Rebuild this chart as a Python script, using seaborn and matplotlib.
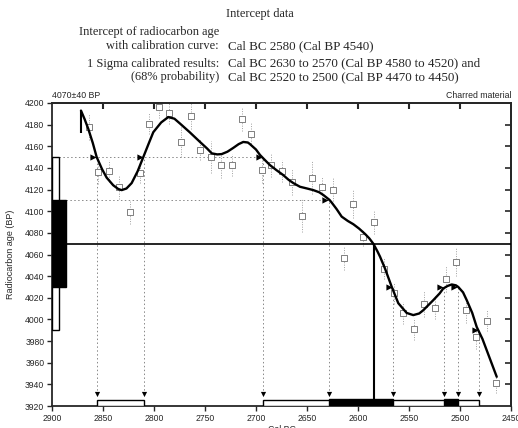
import matplotlib
matplotlib.use("Agg")
import matplotlib.pyplot as plt
import seaborn as sns
import numpy as np
import pandas as pd

# ---------------- data ----------------
curve_year = [2871.6, 2868, 2864.4, 2860, 2856.2, 2851, 2846.4, 2840, 2835, 2831.7, 2827, 2821.9,
              2816, 2810.5, 2805, 2800.7, 2793, 2786, 2780, 2774.5, 2765, 2754.9, 2748, 2743.4,
              2738, 2733.6, 2728, 2722.3, 2717, 2712.5, 2708, 2705.9, 2700, 2696.1, 2692, 2686.3,
              2680, 2673.3, 2668, 2663.4, 2656.9, 2650, 2643.8, 2638, 2634, 2628, 2625.8, 2621,
              2616, 2610, 2604.6, 2599, 2593.1, 2589, 2585, 2581, 2578.4, 2573.5, 2566.9, 2560.5,
              2552.3, 2545.8, 2540, 2536, 2526.2, 2520, 2516.4, 2512, 2508.1, 2504, 2501.7, 2497,
              2493.4, 2488, 2483.6, 2478, 2473.8, 2468, 2464]
curve_bp = [4193, 4185, 4176, 4163, 4150, 4139, 4131, 4124, 4120.5, 4119.5, 4121, 4126,
            4137, 4150, 4163, 4173, 4182, 4187, 4185.5, 4181, 4173, 4164, 4158, 4153.5,
            4152.5, 4152.8, 4155, 4158.5, 4162, 4164, 4163.5, 4162, 4157, 4152, 4148, 4142.6,
            4138, 4133.4, 4129, 4126, 4122.6, 4121, 4119.5, 4117.5, 4115, 4110.5, 4108, 4102,
            4095, 4091, 4088, 4084, 4079, 4075, 4070, 4063, 4058, 4047, 4030, 4015,
            4006, 4004, 4005.5, 4008.5, 4017.8, 4024, 4028.6, 4031, 4032.3, 4031.5, 4030, 4025,
            4017.8, 4006, 3993, 3982, 3971.5, 3957, 3947]

pt_year = [2864, 2855, 2844, 2834, 2824, 2814, 2805, 2795, 2785, 2774, 2764, 2755, 2744, 2734,
           2724, 2714, 2705, 2694, 2685, 2675, 2665, 2655, 2645, 2635, 2625, 2614, 2605, 2595,
           2584, 2575, 2565, 2556, 2545, 2535, 2525, 2514, 2504, 2494, 2484, 2474, 2465]
pt_bp = [4178, 4136, 4137, 4122, 4099, 4135, 4181, 4196, 4191, 4164, 4188, 4157, 4150, 4143,
         4143, 4185, 4171, 4138, 4143, 4137, 4127, 4096, 4131, 4122, 4120, 4057, 4107, 4076,
         4090, 4047, 4024, 4006, 3991, 4014, 4011, 4037, 4053, 4009, 3984, 3999, 3941]
pt_err = [12, 11, 10, 11, 11, 9, 10, 10, 10, 14, 12, 10, 15, 12,
          10, 11, 11, 12, 11, 10, 12, 15, 15, 10, 11, 11, 13, 8,
          11, 10, 10, 10, 10, 12, 11, 12, 13, 12, 11, 10, 9]

c14_age = 4070
c14_err = 40
intercept_year = 2584
sigma2_ranges = [(2856, 2810), (2693, 2481)]
sigma1_ranges = [(2628, 2566), (2516, 2502)]
cross_year = [2856, 2810, 2693, 2628, 2566, 2516, 2502, 2481]
cross_bp = [4150, 4150, 4150, 4110, 4030, 4030, 4030, 3990]

yticks = list(range(3920, 4201, 20))
xticks = [2900, 2850, 2800, 2750, 2700, 2650, 2600, 2550, 2500, 2450]

header_left = ['Intercept of radiocarbon age', 'with calibration curve:',
               '1 Sigma calibrated results:', '(68% probability)']
header_right = ['', 'Cal BC 2580 (Cal BP 4540)',
                'Cal BC 2630 to 2570 (Cal BP 4580 to 4520) and',
                'Cal BC 2520 to 2500 (Cal BP 4470 to 4450)']

# ---------------- figure ----------------
sns.set_style("ticks")
plt.rcParams['font.family'] = ['Liberation Sans', 'DejaVu Sans']

fig = plt.figure(figsize=(5.18, 4.28), dpi=100)
ax = fig.add_axes([52 / 518, 22 / 428, 459 / 518, 303 / 428])
ax.set_xlim(2900, 2450)
ax.set_ylim(3920, 4200)

# guide lines (dotted)
s1_lo, s1_hi = c14_age - c14_err, c14_age + c14_err
s2_lo, s2_hi = c14_age - 2 * c14_err, c14_age + 2 * c14_err
box2_w, box1_w = 7, 13.5
dot = (0, (1.5, 2.5))
ax.hlines(s2_hi, 2900 - box2_w, min(y for y, b in zip(cross_year, cross_bp) if b == s2_hi),
          colors='#888888', linestyles=[dot], lw=0.7)
ax.hlines(s1_hi, 2900 - box1_w, min(y for y, b in zip(cross_year, cross_bp) if b == s1_hi),
          colors='#888888', linestyles=[dot], lw=0.7)
ax.vlines(cross_year, 3931, cross_bp, colors='#888888', linestyles=[dot], lw=0.7)

# measurement points with error bars
pts = pd.DataFrame({'year': pt_year, 'bp': pt_bp, 'err': pt_err})
eb = ax.errorbar(pts['year'], pts['bp'], yerr=pts['err'], fmt='none', ecolor='#a0a0a0',
                 elinewidth=0.7, capsize=0)
for coll in eb[2]:
    coll.set_linestyle([(0, (1, 1.5))])
sns.scatterplot(data=pts, x='year', y='bp', marker='s', s=13, facecolor='white',
                edgecolor='#808080', linewidth=0.7, ax=ax, zorder=4, legend=False)

# calibration curve
cdf = pd.DataFrame({'year': curve_year, 'bp': curve_bp})
sns.lineplot(data=cdf, x='year', y='bp', sort=False, color='black', lw=1.7, ax=ax, zorder=5)
ax.vlines(curve_year[0], curve_bp[0] - 21, curve_bp[0], colors='black', lw=1.5, zorder=5)

# radiocarbon age boxes on the left
ax.barh(s2_lo, -box2_w, left=2900, height=s2_hi - s2_lo, align='edge',
        facecolor='white', edgecolor='black', lw=1, zorder=3)
ax.barh(s1_lo, -box1_w, left=2900, height=s1_hi - s1_lo, align='edge',
        facecolor='black', edgecolor='black', lw=1, zorder=3)

# intercept lines
ax.hlines(c14_age, 2900 - box1_w, 2450, colors='black', lw=1.2, zorder=3)
ax.vlines(intercept_year, 3920, c14_age, colors='black', lw=1.5, zorder=3)

# arrows at crossings
ax.scatter([y + 4 for y in cross_year], cross_bp, marker='>', s=20, color='black', zorder=6,
           linewidths=0)
ax.scatter(cross_year, [3931] * len(cross_year), marker='v', s=14, color='black', zorder=6,
           linewidths=0)

# range bars at the bottom
for a, b in sigma2_ranges:
    ax.barh(3920, b - a, left=a, height=5.5, align='edge', facecolor='white',
            edgecolor='black', lw=1, zorder=4)
for a, b in sigma1_ranges:
    ax.barh(3920, b - a, left=a, height=6.5, align='edge', facecolor='black',
            edgecolor='black', lw=1, zorder=5)

# axes styling
ax.set_xticks(xticks)
ax.set_yticks(yticks)
ax.tick_params(axis='both', direction='out', length=3.5, width=1, labelsize=6.2, pad=2,
               top=False, right=False)
for sp in ax.spines.values():
    sp.set_linewidth(1.3)
    sp.set_visible(True)
sec_x = ax.secondary_xaxis('top')
sec_x.set_xticks(xticks[1:-1])
sec_x.tick_params(direction='in', length=4.5, width=1.5, labeltop=False)
sec_x.spines['top'].set_linewidth(1.3)
sec_y = ax.secondary_yaxis('right')
sec_y.set_yticks(yticks[1:-1])
sec_y.tick_params(direction='in', length=4.5, width=1.2, labelright=False)
sec_y.spines['right'].set_linewidth(1.3)

ax.set_ylabel('Radiocarbon age (BP)', fontsize=6.5, labelpad=7)
ax.set_xlabel('Cal BC', fontsize=6.3, labelpad=2)

# header texts
ax.text(0, 1.01, '4070\u00b140 BP', transform=ax.transAxes, fontsize=6.3, ha='left', va='bottom')
ax.text(1, 1.01, 'Charred material', transform=ax.transAxes, fontsize=6.3, ha='right',
        va='bottom')

serif = ['Liberation Serif', 'DejaVu Serif']
fig.text(260 / 518, 1 - 14 / 428, 'Intercept data', family=serif, fontsize=8.9,
         ha='center', va='center')
line_y = [32.5, 46, 63.5, 77]
for yy, lt, rt in zip(line_y, header_left, header_right):
    fig.text(219 / 518, 1 - yy / 428, lt, family=serif, fontsize=8.9, ha='right', va='center')
    if rt:
        fig.text(228 / 518, 1 - yy / 428, rt, family=serif, fontsize=9.4, ha='left',
                 va='center')

fig.savefig('out.png', dpi=100)
